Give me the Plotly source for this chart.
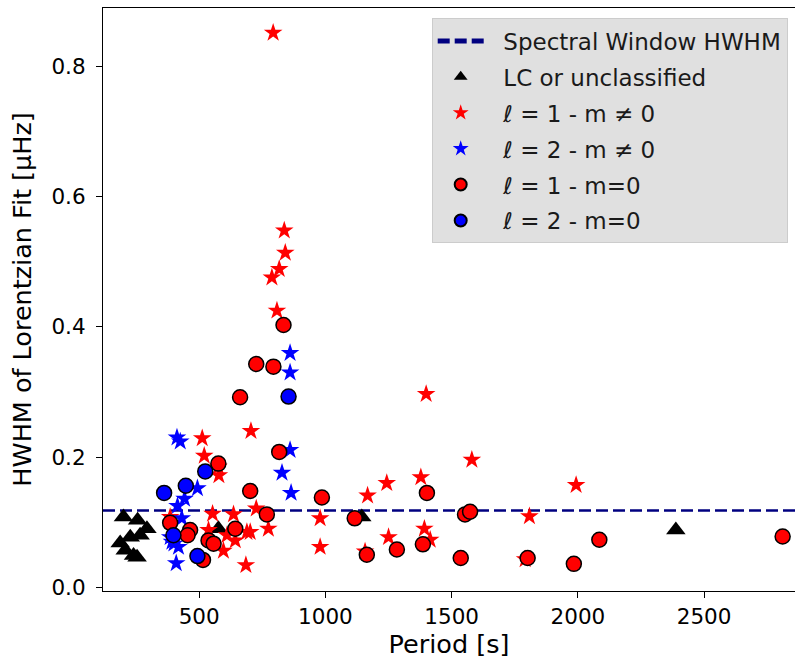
import plotly.graph_objects as go

# ---- data ----
spectral_window_hwhm = 0.118
x_limits = [119, 2860]
y_limits = [-0.0057, 0.890]

lc_period = [200, 256, 293, 266, 227, 187, 207, 240, 254, 576, 1144, 2388]
lc_hwhm = [0.108, 0.103, 0.090, 0.080, 0.077, 0.068, 0.057, 0.049, 0.046, 0.090, 0.108, 0.088]

l1_mn0_period = [793, 837, 841, 817, 788, 808, 705, 512, 520, 576, 578, 1399, 1580, 1993,
                 1378, 1243, 1167, 385, 553, 636, 726, 537, 702, 689, 774, 643, 596, 610,
                 685, 979, 979, 1808, 1392, 1415, 1250, 1157, 1791]
l1_mn0_hwhm = [0.852, 0.548, 0.514, 0.489, 0.476, 0.425, 0.240, 0.229, 0.202, 0.185, 0.172,
               0.297, 0.196, 0.157, 0.169, 0.160, 0.141, 0.108, 0.113, 0.112, 0.121, 0.088,
               0.085, 0.085, 0.090, 0.072, 0.056, 0.080, 0.034, 0.106, 0.062, 0.109, 0.090,
               0.073, 0.077, 0.055, 0.043]

l2_mn0_period = [412, 425, 860, 828, 864, 860, 860, 493, 442, 414, 431, 385, 392, 418, 400, 409]
l2_mn0_hwhm = [0.230, 0.224, 0.211, 0.176, 0.145, 0.360, 0.330, 0.152, 0.136, 0.125, 0.106,
               0.077, 0.070, 0.062, 0.067, 0.037]

l1_m0_period = [662, 817, 576, 702, 986, 768, 385, 464, 454, 643, 537, 557, 515, 1116, 834,
                726, 794, 1402, 1553, 1573, 1386, 1283, 1164, 1536, 1801, 1984, 2085, 2811]
l1_m0_hwhm = [0.292, 0.208, 0.190, 0.148, 0.138, 0.112, 0.099, 0.088, 0.080, 0.090, 0.072,
              0.067, 0.042, 0.106, 0.403, 0.343, 0.339, 0.145, 0.112, 0.116, 0.066, 0.058,
              0.050, 0.045, 0.045, 0.036, 0.073, 0.078]

l2_m0_period = [854, 524, 361, 447, 398, 493]
l2_m0_hwhm = [0.293, 0.178, 0.145, 0.156, 0.080, 0.048]

x_tick_vals = [500, 1000, 1500, 2000, 2500]
y_tick_vals = [0.0, 0.2, 0.4, 0.6, 0.8]

FONT = "DejaVu Sans"
TICK_FS = 21.5
TITLE_FS = 25.5
LEG_FS = 23
PAD = "\u00a0\u00a0"

fig = go.Figure()

fig.add_trace(go.Scatter(
    x=x_limits, y=[spectral_window_hwhm, spectral_window_hwhm], mode="lines",
    line=dict(color="#000080", width=2.5, dash="12px,5px"),
    name=PAD + "Spectral Window HWHM", legendgroup="g0"))

fig.add_trace(go.Scatter(
    x=lc_period, y=lc_hwhm, mode="markers",
    marker=dict(symbol="triangle-up", size=17, color="black"),
    name=PAD + "LC or unclassified", legendgroup="g1"))

fig.add_trace(go.Scatter(
    x=l1_mn0_period, y=l1_mn0_hwhm, mode="markers",
    marker=dict(symbol="star", size=14, color="#ff0000", line=dict(width=0)),
    name=PAD + "<i>ℓ</i> = 1 - m ≠ 0", legendgroup="g2"))

fig.add_trace(go.Scatter(
    x=l2_mn0_period, y=l2_mn0_hwhm, mode="markers",
    marker=dict(symbol="star", size=14, color="#0000ff", line=dict(width=0)),
    name=PAD + "<i>ℓ</i> = 2 - m ≠ 0", legendgroup="g3"))

fig.add_trace(go.Scatter(
    x=l1_m0_period, y=l1_m0_hwhm, mode="markers",
    marker=dict(symbol="circle", size=15, color="#ff0000", line=dict(width=1.5, color="black")),
    name=PAD + "<i>ℓ</i> = 1 - m=0", legendgroup="g4"))

fig.add_trace(go.Scatter(
    x=l2_m0_period, y=l2_m0_hwhm, mode="markers",
    marker=dict(symbol="circle", size=15, color="#0000ff", line=dict(width=1.5, color="black")),
    name=PAD + "<i>ℓ</i> = 2 - m=0", legendgroup="g5"))

fig.update_layout(
    width=795, height=663,
    margin=dict(l=103, r=0, t=8, b=72),
    paper_bgcolor="white", plot_bgcolor="white",
    font=dict(family=FONT, size=TICK_FS, color="black"),
    showlegend=True,
    legend=dict(
        x=0.475, y=0.982, xanchor="left", yanchor="top",
        bgcolor="#e0e0e0", bordercolor="#cccccc", borderwidth=1,
        font=dict(family=FONT, size=LEG_FS, color="#1a1a1a"),
        tracegroupgap=3, itemsizing="constant", itemwidth=46,
    ),
    xaxis=dict(
        range=x_limits, tickvals=x_tick_vals,
        showgrid=False, zeroline=False,
        showline=True, linecolor="black", linewidth=1.2, mirror=True,
        ticks="outside", ticklen=6, tickwidth=1.2, tickcolor="black",
        tickfont=dict(size=TICK_FS),
        title=dict(text="Period [s]", standoff=6, font=dict(size=TITLE_FS)),
    ),
    yaxis=dict(
        range=y_limits, tickvals=y_tick_vals, tickformat=".1f",
        showgrid=False, zeroline=False,
        showline=True, linecolor="black", linewidth=1.2,
        ticks="outside", ticklen=6, tickwidth=1.2, tickcolor="black",
        ticklabelstandoff=6, tickfont=dict(size=TICK_FS),
        title=dict(text="HWHM of Lorentzian Fit [μHz]", standoff=12, font=dict(size=TITLE_FS)),
    ),
)

fig.write_html("out.html")
